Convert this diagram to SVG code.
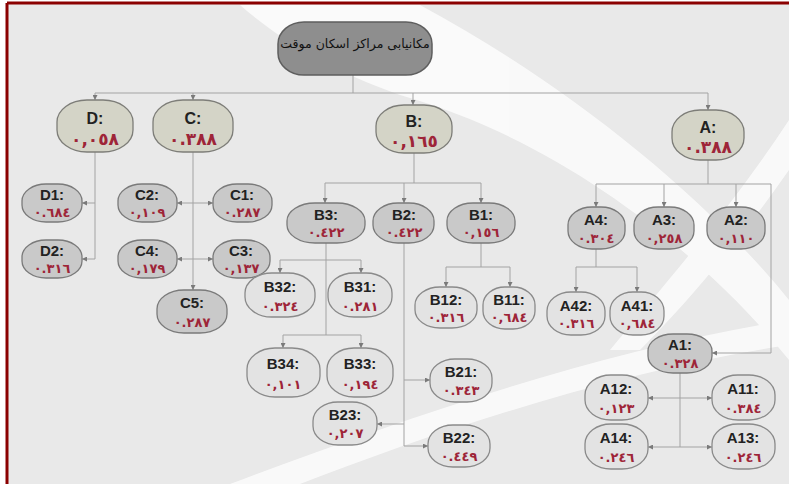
<svg xmlns="http://www.w3.org/2000/svg" width="789" height="484" viewBox="0 0 789 484">
<defs>
<style>
.n1{fill:#d4d4c7;stroke:#7d7d78;stroke-width:1.3}
.n2{fill:#c9c9c9;stroke:#7a7a7a;stroke-width:1.3}
.n3{fill:#e3e3e3;stroke:#8a8a8a;stroke-width:1.3}
.lb{font-family:"Liberation Sans",Arial,sans-serif;font-weight:bold;font-size:15px;fill:#222;text-anchor:middle}
.lb1{font-family:"Liberation Sans",Arial,sans-serif;font-weight:bold;font-size:16px;fill:#222;text-anchor:middle}
.nv{font-family:"DejaVu Sans",sans-serif;font-weight:bold;font-size:13px;fill:#9e2538;text-anchor:middle}
.nv1{font-family:"DejaVu Sans",sans-serif;font-weight:bold;font-size:17px;fill:#9e2538;text-anchor:middle}
.c{fill:none;stroke:#a3a3a3;stroke-width:1}
.a{marker-end:url(#ar)}
.aa{marker-end:url(#ar);marker-start:url(#ar)}
</style>
<marker id="ar" viewBox="0 0 10 10" refX="10" refY="5" markerWidth="5" markerHeight="5" markerUnits="userSpaceOnUse" orient="auto-start-reverse">
<path d="M0 0 L10 5 L0 10 Z" fill="#7a7a7a"/>
</marker>
</defs>
<rect x="0" y="0" width="789" height="484" fill="#ffffff"/>
<rect x="7" y="3" width="782" height="481" fill="#e9e9e9"/>
<g id="background" fill="#ffffff" opacity="0.75">
<path d="M240 5 L420 5 C560 80 700 190 789 300 L789 360 C700 250 560 140 400 95 C330 70 280 40 240 5 Z"/>
<path d="M789 120 L789 170 C740 240 690 300 640 350 L610 350 C660 290 730 210 789 120 Z"/>
<path d="M230 484 C400 420 600 350 789 320 L789 345 C620 370 440 430 300 484 Z"/>
</g>
<path d="M7 3 H789 M7 3 V484" fill="none" stroke="#8b0000" stroke-width="3"/>
<g id="connectors">
<path class="c" d="M353 75 V93 M95 93 H708"/>
<path class="c a" d="M95 93 V100"/>
<path class="c a" d="M193 93 V100"/>
<path class="c a" d="M413 93 V105"/>
<path class="c a" d="M708 93 V110"/>
<path class="c" d="M95 152 V259"/>
<path class="c a" d="M95 203 H82"/>
<path class="c a" d="M95 259 H82"/>
<path class="c a" d="M193 152 V290"/>
<path class="c aa" d="M177 203 H213"/>
<path class="c aa" d="M177 259 H213"/>
<path class="c" d="M414 153 V183 M325 183 H481"/>
<path class="c a" d="M325 183 V203"/>
<path class="c a" d="M404 183 V203"/>
<path class="c a" d="M481 183 V203"/>
<path class="c" d="M326 243 V335 M280 260 H361 M283 335 H361"/>
<path class="c a" d="M280 260 V273"/>
<path class="c a" d="M361 260 V273"/>
<path class="c a" d="M283 335 V348"/>
<path class="c a" d="M361 335 V348"/>
<path class="c" d="M404 243 V446"/>
<path class="c a" d="M404 380 H430"/>
<path class="c a" d="M404 424 H377"/>
<path class="c a" d="M404 446 H428"/>
<path class="c" d="M481 243 V267 M446 267 H510"/>
<path class="c a" d="M446 267 V287"/>
<path class="c a" d="M510 267 V287"/>
<path class="c" d="M708 160 V184 M596 184 H771"/>
<path class="c a" d="M596 184 V207"/>
<path class="c a" d="M664 184 V207"/>
<path class="c a" d="M736 184 V207"/>
<path class="c a" d="M771 184 V353 H712"/>
<path class="c" d="M596 249 V267 M576 267 H637"/>
<path class="c a" d="M576 267 V292"/>
<path class="c a" d="M637 267 V292"/>
<path class="c" d="M680 373 V447"/>
<path class="c aa" d="M648 398 H712"/>
<path class="c aa" d="M648 447 H712"/>
</g>
<g id="root">
<rect x="278" y="22" width="154" height="53" rx="26" ry="22" fill="#8e8e8e" stroke="#5e5e5e" stroke-width="1.5"/>
<text x="355" y="48" font-family="DejaVu Sans,sans-serif" font-size="12.5" fill="#111" text-anchor="middle" direction="rtl">مکانیابی مراکز اسکان موقت</text>
</g>
<g id="D"><rect class="n1" x="57" y="100" width="76" height="52" rx="30" ry="22"/><text class="lb1" x="95" y="124">D:</text><text class="nv1" x="95" y="145">٠,٠٥٨</text></g>
<g id="C"><rect class="n1" x="153" y="100" width="80" height="52" rx="30" ry="22"/><text class="lb1" x="193" y="124">C:</text><text class="nv1" x="193" y="145">٠.٣٨٨</text></g>
<g id="B"><rect class="n1" x="376" y="105" width="76" height="48" rx="28" ry="21"/><text class="lb1" x="414" y="127">B:</text><text class="nv1" x="414" y="147">٠,١٦٥</text></g>
<g id="A"><rect class="n1" x="672" y="110" width="72" height="50" rx="28" ry="22"/><text class="lb1" x="708" y="133">A:</text><text class="nv1" x="708" y="153">٠.٣٨٨</text></g>
<g id="D1"><rect class="n2" x="22" y="184" width="60" height="38" rx="24" ry="17"/><text class="lb" x="52" y="200">D1:</text><text class="nv" x="52" y="217">٠.٦٨٤</text></g>
<g id="D2"><rect class="n2" x="22" y="240" width="60" height="38" rx="24" ry="17"/><text class="lb" x="52" y="256">D2:</text><text class="nv" x="52" y="273">٠.٣١٦</text></g>
<g id="C2"><rect class="n2" x="118" y="184" width="59" height="38" rx="24" ry="17"/><text class="lb" x="147" y="200">C2:</text><text class="nv" x="147" y="217">٠,١٠٩</text></g>
<g id="C1"><rect class="n2" x="213" y="184" width="59" height="38" rx="24" ry="17"/><text class="lb" x="242" y="200">C1:</text><text class="nv" x="242" y="217">٠.٢٨٧</text></g>
<g id="C4"><rect class="n2" x="118" y="240" width="59" height="38" rx="24" ry="17"/><text class="lb" x="147" y="256">C4:</text><text class="nv" x="147" y="273">٠,١٧٩</text></g>
<g id="C3"><rect class="n2" x="213" y="240" width="57" height="38" rx="24" ry="17"/><text class="lb" x="241" y="256">C3:</text><text class="nv" x="241" y="273">٠,١٣٧</text></g>
<g id="C5"><rect class="n2" x="157" y="290" width="70" height="43" rx="27" ry="19"/><text class="lb" x="192" y="308">C5:</text><text class="nv" x="192" y="327">٠.٢٨٧</text></g>
<g id="B3"><rect class="n2" x="287" y="203" width="78" height="40" rx="28" ry="18"/><text class="lb" x="326" y="220">B3:</text><text class="nv" x="326" y="237">٠.٤٢٢</text></g>
<g id="B2"><rect class="n2" x="373" y="203" width="61" height="40" rx="25" ry="18"/><text class="lb" x="404" y="220">B2:</text><text class="nv" x="404" y="237">٠.٤٢٢</text></g>
<g id="B1"><rect class="n2" x="447" y="203" width="68" height="40" rx="26" ry="18"/><text class="lb" x="481" y="220">B1:</text><text class="nv" x="481" y="237">٠,١٥٦</text></g>
<g id="A4"><rect class="n2" x="568" y="207" width="57" height="42" rx="24" ry="18"/><text class="lb" x="596" y="225">A4:</text><text class="nv" x="596" y="243">٠.٣٠٤</text></g>
<g id="A3"><rect class="n2" x="634" y="207" width="60" height="42" rx="24" ry="18"/><text class="lb" x="664" y="225">A3:</text><text class="nv" x="664" y="243">٠,٢٥٨</text></g>
<g id="A2"><rect class="n2" x="707" y="207" width="58" height="42" rx="24" ry="18"/><text class="lb" x="736" y="225">A2:</text><text class="nv" x="736" y="243">٠,١١٠</text></g>
<g id="A1"><rect class="n2" x="648" y="334" width="64" height="39" rx="25" ry="17"/><text class="lb" x="680" y="350">A1:</text><text class="nv" x="680" y="368">٠.٣٢٨</text></g>
<g id="B32"><rect class="n3" x="245" y="273" width="70" height="44" rx="27" ry="20"/><text class="lb" x="280" y="292">B32:</text><text class="nv" x="280" y="311">٠.٣٢٤</text></g>
<g id="B31"><rect class="n3" x="328" y="273" width="64" height="44" rx="26" ry="20"/><text class="lb" x="360" y="292">B31:</text><text class="nv" x="360" y="311">٠.٢٨١</text></g>
<g id="B12"><rect class="n3" x="415" y="287" width="62" height="41" rx="25" ry="18"/><text class="lb" x="446" y="305">B12:</text><text class="nv" x="446" y="322">٠.٣١٦</text></g>
<g id="B11"><rect class="n3" x="483" y="287" width="52" height="42" rx="22" ry="18"/><text class="lb" x="509" y="305">B11:</text><text class="nv" x="509" y="322">٠,٦٨٤</text></g>
<g id="A42"><rect class="n3" x="547" y="292" width="58" height="43" rx="24" ry="19"/><text class="lb" x="576" y="311">A42:</text><text class="nv" x="576" y="328">٠.٣١٦</text></g>
<g id="A41"><rect class="n3" x="610" y="292" width="54" height="43" rx="23" ry="19"/><text class="lb" x="637" y="311">A41:</text><text class="nv" x="637" y="328">٠,٦٨٤</text></g>
<g id="B34"><rect class="n3" x="247" y="348" width="73" height="49" rx="28" ry="21"/><text class="lb" x="283" y="369">B34:</text><text class="nv" x="283" y="389">٠,١٠١</text></g>
<g id="B33"><rect class="n3" x="327" y="348" width="66" height="49" rx="27" ry="21"/><text class="lb" x="360" y="369">B33:</text><text class="nv" x="360" y="389">٠,١٩٤</text></g>
<g id="B21"><rect class="n3" x="430" y="359" width="62" height="43" rx="25" ry="19"/><text class="lb" x="461" y="377">B21:</text><text class="nv" x="461" y="395">٠.٣٤٣</text></g>
<g id="B23"><rect class="n3" x="313" y="402" width="64" height="43" rx="25" ry="19"/><text class="lb" x="345" y="420">B23:</text><text class="nv" x="345" y="438">٠,٢٠٧</text></g>
<g id="B22"><rect class="n3" x="428" y="425" width="62" height="42" rx="25" ry="19"/><text class="lb" x="459" y="443">B22:</text><text class="nv" x="459" y="461">٠.٤٤٩</text></g>
<g id="A12"><rect class="n3" x="585" y="375" width="63" height="45" rx="26" ry="20"/><text class="lb" x="616" y="394">A12:</text><text class="nv" x="616" y="413">٠,١٢٣</text></g>
<g id="A11"><rect class="n3" x="712" y="375" width="63" height="45" rx="26" ry="20"/><text class="lb" x="743" y="394">A11:</text><text class="nv" x="743" y="413">٠.٣٨٤</text></g>
<g id="A14"><rect class="n3" x="585" y="424" width="63" height="45" rx="26" ry="20"/><text class="lb" x="616" y="443">A14:</text><text class="nv" x="616" y="462">٠.٢٤٦</text></g>
<g id="A13"><rect class="n3" x="712" y="424" width="63" height="45" rx="26" ry="20"/><text class="lb" x="743" y="443">A13:</text><text class="nv" x="743" y="462">٠.٢٤٦</text></g>
</svg>
